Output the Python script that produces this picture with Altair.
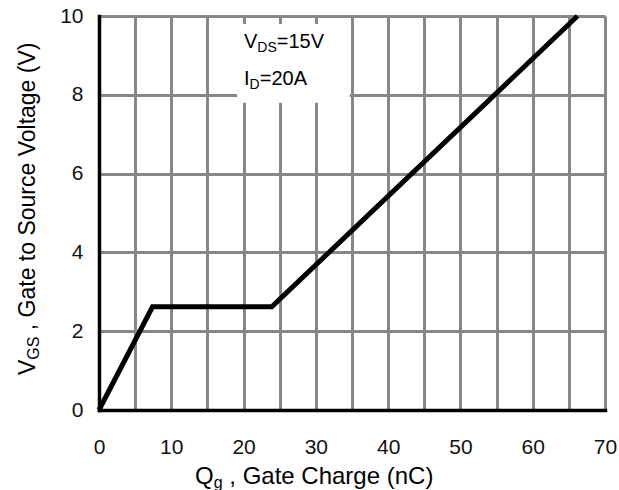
import altair as alt
import pandas as pd

# Gate charge characteristic: V_GS versus Q_g
qg_nc = [0.0, 7.4, 23.9, 66.2]
vgs_v = [0.0, 2.62, 2.62, 10.0]

# axis ticks (grid every 5 nC, labels every 10 nC)
x_ticks = list(range(0, 75, 5))
y_ticks = [0, 2, 4, 6, 8, 10]

# white panel behind the test-condition note (data units)
note_q = [19.1, 34.7]
note_v = [7.8, 9.8]

FONT = "Liberation Sans"
W, H = 506, 394

curve = pd.DataFrame({"qg": qg_nc, "vgs": vgs_v})
panel = pd.DataFrame({"q0": [note_q[0]], "q1": [note_q[1]],
                      "v0": [note_v[0]], "v1": [note_v[1]]})
anchor = pd.DataFrame({"k": [0]})

x_scale = alt.Scale(domain=[0, 70], nice=False, zero=False)
y_scale = alt.Scale(domain=[0, 10], nice=False, zero=False)

x_axis = alt.Axis(
    values=x_ticks,
    labelExpr="datum.value % 10 == 0 ? datum.label : ''",
    title=None, labelPadding=26, labelFlush=False, labelOverlap=False,
)
y_axis = alt.Axis(
    values=y_ticks, title=None, labelPadding=16,
    labelFlush=False, labelOverlap=False,
)

panel_layer = alt.Chart(panel).mark_rect(color="white").encode(
    x=alt.X("q0:Q", scale=x_scale, axis=x_axis),
    x2="q1:Q",
    y=alt.Y("v0:Q", scale=y_scale, axis=y_axis),
    y2="v1:Q",
)

curve_layer = alt.Chart(curve).mark_line(
    color="black", strokeWidth=5, strokeJoin="miter", strokeCap="butt"
).encode(
    x=alt.X("qg:Q", scale=x_scale, axis=x_axis),
    y=alt.Y("vgs:Q", scale=y_scale, axis=y_axis),
)


def label(text, px, py, size, angle=0):
    """A piece of text placed at a pixel position inside the plot frame."""
    return alt.Chart(anchor).mark_text(
        text=text, font=FONT, fontSize=size, color="black",
        align="left", baseline="alphabetic", angle=angle,
    ).encode(x=alt.value(px), y=alt.value(py))


# test conditions: V_DS=15V, I_D=20A
note = [
    label("V", 145, 32, 20),
    label("DS", 158.3, 36, 14),
    label("=15V", 177.8, 32, 20),
    label("I", 145, 69, 20),
    label("D", 150.6, 73, 14),
    label("=20A", 160.8, 69, 20),
]

# x title: Q_g , Gate Charge (nC)
x_title = [
    label("Q", 96, 468, 24),
    label("g", 114.7, 471.5, 16),
    label(", Gate Charge (nC)", 130.3, 468, 24),
]

# y title (rotated): V_GS , Gate to Source Voltage (V)
y_title = [
    label("V", -64, 359, 23, 270),
    label("GS", -60, 343.7, 16, 270),
    label(", Gate to Source Voltage (V)", -64, 314.2, 23, 270),
]

chart = alt.layer(panel_layer, curve_layer, *note, *x_title, *y_title).properties(
    width=W, height=H,
    padding={"left": 99, "top": 16, "right": 14, "bottom": 80},
    autosize=alt.AutoSizeParams(type="none"),
).configure_view(
    strokeWidth=0
).configure_axis(
    grid=True, gridColor="#878787", gridWidth=3,
    domainColor="black", domainWidth=3.5, domainCap="square",
    ticks=False,
    labelFont=FONT, labelFontSize=21, labelColor="#111111",
)

chart.save("out.html", embed_options={"renderer": "svg", "actions": False})
